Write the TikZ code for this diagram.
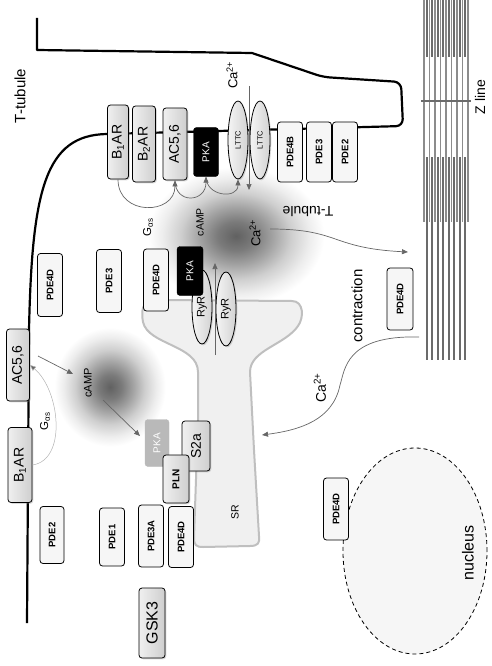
\documentclass[tikz,border=0pt]{standalone}
\usepackage{fontspec}
\setmainfont{Liberation Sans}
\usetikzlibrary{shapes.geometric,arrows.meta,shadows}
\newcommand{\fsz}[1]{\fontsize{#1}{#1}\selectfont}
\pgfdeclareradialshading{cloud}{\pgfpointorigin}{color(0bp)=(black!62); color(5bp)=(black!52); color(10bp)=(black!36); color(15bp)=(black!19); color(20bp)=(black!7); color(24bp)=(white); color(50bp)=(white)}
\tikzset{
  recep/.style={draw, line width=.8pt, rounded corners=3pt, left color=gray!12, right color=gray!38,
    drop shadow={opacity=.3, shadow xshift=1.3pt, shadow yshift=-1.3pt},
    rotate=90, inner sep=0pt, font=\fsz{14}},
  pde/.style={draw, line width=.8pt, rounded corners=3pt, fill=gray!7, rotate=90, inner sep=0pt,
    minimum width=62pt, minimum height=25pt, font=\fsz{9.5}\bfseries},
  pkab/.style={draw, fill=black, text=white, rounded corners=3pt, rotate=90, inner sep=0pt,
    minimum width=49pt, minimum height=25pt, font=\fsz{10}},
  chan/.style={ellipse, draw, line width=.8pt, left color=gray!8, right color=gray!35,
    drop shadow={opacity=.3, shadow xshift=1.3pt, shadow yshift=-1.3pt},
    rotate=90, inner sep=0pt, minimum height=20pt},
  lab/.style={rotate=90, inner sep=0pt},
  flow/.style={draw=black!60, line width=.7pt, -{Triangle[length=6pt,width=5pt]}},
  membrane/.style={line width=2.2pt, line join=round},
  actin/.style={draw=black!45, line width=1.1pt},
  myosin/.style={draw=black!58, line width=2.2pt},
}
\begin{document}
\begin{tikzpicture}[x=1pt,y=-1pt]
\useasboundingbox (0,0) rectangle (492,666);

% cAMP / Ca clouds
\shade[shading=cloud] (236,236) ellipse [x radius=92pt, y radius=72pt];
\shade[shading=cloud] (110,387) ellipse [x radius=58pt, y radius=62pt];

% SR
\draw[fill=gray!12, draw=gray!50, line width=2pt]
  (160,300) -- (292,301) .. controls (304,301) and (304,318) .. (298,326)
  .. controls (285,345) and (250,350) .. (250,372) -- (254,450) -- (259,536)
  .. controls (260,543) and (258,546) .. (250,546) -- (203,547)
  .. controls (196,547) and (194,545) .. (194,538) -- (198,420) -- (198,372)
  .. controls (198,345) and (148,345) .. (143,322)
  .. controls (140,305) and (145,300) .. (160,300) -- cycle;

% membrane
\draw[membrane] (27,623) -- (29,330) .. controls (32,190) and (45,135) .. (107,134)
  [rounded corners=7pt] -- (403,126) -- (401,82) -- (323,77) [sharp corners] -- (252,53) -- (37,50) -- (37,18);

% sarcomere
\foreach \i in {0,...,8}
  \draw[actin] (424+5.5*\i,0) -- (424+5.5*\i,222);
\foreach \i in {0,...,7} {
  \draw[myosin] (426.75+5.5*\i,0) -- (426.75+5.5*\i,57);
  \draw[myosin] (426.75+5.5*\i,157) -- (426.75+5.5*\i,360);
}
\draw[draw=black!58, line width=2.5pt] (421,101) -- (471,101);

% nucleus
\node[ellipse, draw, dashed, dash pattern=on 4pt off 3pt, line width=.8pt, fill=gray!7,
  minimum width=144pt, minimum height=206pt] (nuc) at (415,551) {};
\node[lab, font=\fsz{16}] (nuclbl) at (468,553) {nucleus};

% T-tubule membrane proteins
\node[recep, minimum width=74pt, minimum height=21pt] (b1arA) at (118,142) {B\textsubscript{1}AR};
\node[recep, minimum width=76pt, minimum height=23pt] (b2ar) at (144,144) {B\textsubscript{2}AR};
\node[recep, minimum width=72pt, minimum height=24pt] (acA) at (175,144) {AC5,6};
\node[pkab] (pkaA) at (206,152) {PKA};
\node[chan, minimum width=78pt, font=\fsz{7.5}] (lttcA) at (238,140) {LTTC};
\node[chan, minimum width=78pt, font=\fsz{7.5}] (lttcB) at (260,140) {LTTC};
\node[pde, minimum width=60pt] (pde4b) at (290,152) {PDE4B};
\node[pde, minimum width=60pt] (pde3A) at (319,152) {PDE3};
\node[pde, minimum width=60pt] (pde2A) at (345,152) {PDE2};

% dyad
\node[pde, minimum width=63pt] (pde4dA) at (50,285) {PDE4D};
\node[pde, minimum width=63pt] (pde3B) at (109,281) {PDE3};
\node[pde] (pde4dB) at (156,280) {PDE4D};
\node[chan, minimum width=74pt, font=\fsz{11}] (ryrA) at (202,307) {RyR};
\node[chan, minimum width=74pt, font=\fsz{11}] (ryrB) at (226,309) {RyR};
\node[pkab, minimum height=26pt] (pkaB) at (190,271) {PKA};
\node[pde, minimum height=26pt] (pde4dC) at (400,299) {PDE4D};

% sarcolemma side
\node[recep, minimum width=72pt, minimum height=23pt] (acB) at (18,365) {AC5,6};
\node[recep, minimum width=75pt, minimum height=24pt] (b1arB) at (20,465) {B\textsubscript{1}AR};
\node[pkab, draw=gray!55, fill=gray!55, minimum width=47pt, minimum height=24pt] (pkaC) at (157,443) {PKA};
\node[recep, minimum width=50pt, minimum height=28pt] (s2a) at (196,446) {S2a};
\node[recep, minimum width=48pt, minimum height=26pt, font=\fsz{10}\bfseries] (pln) at (176,479) {PLN};
\node[pde, minimum width=57pt, minimum height=24pt] (pde2B) at (52,535) {PDE2};
\node[pde, minimum width=58pt] (pde1) at (112,537) {PDE1};
\node[pde] (pde3a) at (151,536) {PDE3A};
\node[pde, minimum width=61pt] (pde4dD) at (181,537) {PDE4D};
\node[recep, minimum width=70pt, minimum height=26pt, font=\fsz{16}] (gsk) at (152,623) {GSK3};
\node[pde] (pde4dE) at (336,509) {PDE4D};

% labels
\node[lab, font=\fsz{15}] (ttub) at (20,96) {T-tubule};
\node[lab, font=\fsz{13}] (caTop) at (232,75) {Ca\textsuperscript{2+}};
\node[lab, font=\fsz{14}] (zlbl) at (480,97) {Z line};
\node[lab, font=\fsz{11.5}] (gasA) at (148,227) {G\textsubscript{αs}};
\node[lab, font=\fsz{10.5}] (campA) at (200,222) {cAMP};
\node[lab, font=\fsz{13}] (caMid) at (255,233) {Ca\textsuperscript{2+}};
\node[rotate=180, inner sep=0pt, font=\fsz{14}] (ttubB) at (308,212) {T-tubule};
\node[lab, font=\fsz{15}] (contr) at (357,306) {contraction};
\node[lab, font=\fsz{14}] (caLow) at (320,388) {Ca\textsuperscript{2+}};
\node[lab, font=\fsz{11}] (campB) at (88,383) {cAMP};
\node[lab, font=\fsz{11.5}] (gasB) at (45,421) {G\textsubscript{αs}};
\node[lab, font=\fsz{10.5}] (srlbl) at (235,512) {SR};

% free ends
\coordinate (caIn) at (249,86);
\coordinate (caOut) at (249,190);
\coordinate (ryrIn) at (215,355);
\coordinate (ryrOut) at (215,263);
\coordinate (acOut) at (38,356);
\coordinate (campIn) at (73,374);
\coordinate (campOut) at (103,400);
\coordinate (pkaIn) at (140,436);
\coordinate (caStart) at (270,229);
\coordinate (zIn) at (408,252);
\coordinate (zOut) at (419,337);
\coordinate (srIn) at (262,435);

% signalling arrows
\draw[flow] (b1arA.west) .. controls +(0,37) and +(0,35) .. (acA.west);
\draw[flow] (acA.west) .. controls +(0,24) and +(0,26) .. (pkaA.west);
\draw[flow] (pkaA.west) .. controls +(0,20) and +(0,20) .. (lttcA.west);
\draw[draw=gray!60, line width=.5pt, -{Triangle[length=6pt,width=5pt,fill=black!60]}]
  (b1arB.south) .. controls +(35,-5) and +(30,25) .. (acB.south);
\draw[flow] (caIn) -- (caOut);
\draw[flow] (ryrIn) -- (ryrOut);
\draw[flow] (acOut) -- (campIn);
\draw[flow] (campOut) -- (pkaIn);
\draw[flow] (caStart) .. controls (340,229) and (330,248) .. (zIn);
\draw[flow] (zOut) .. controls (345,335) and (345,370) .. (340,385)
  .. controls (333,420) and (300,430) .. (srIn);

\end{tikzpicture}
\end{document}
